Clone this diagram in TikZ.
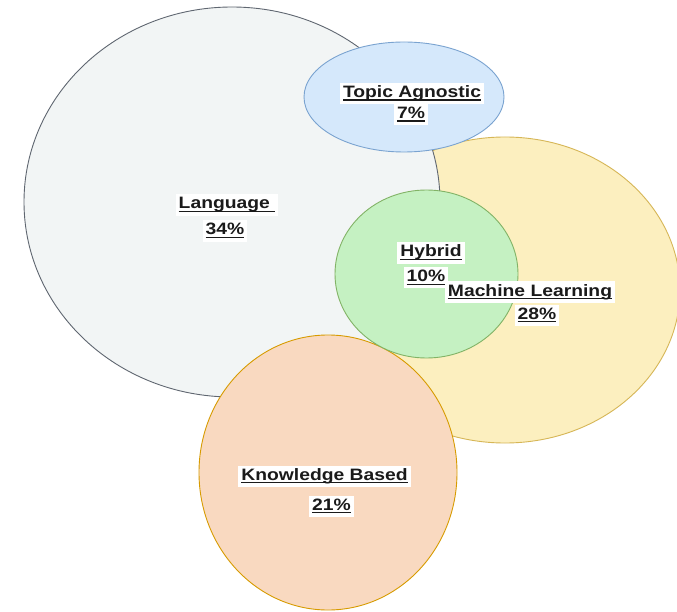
\documentclass[tikz,border=0pt]{standalone}
\usepackage{fontspec}
\setmainfont{Liberation Sans}
\usetikzlibrary{shapes.geometric}
\definecolor{langfill}{HTML}{F2F5F5}
\definecolor{langdraw}{HTML}{5F6670}
\definecolor{topfill}{HTML}{D5E8FB}
\definecolor{topdraw}{HTML}{7AA3D0}
\definecolor{mlfill}{HTML}{FCEFBF}
\definecolor{mldraw}{HTML}{D6B656}
\definecolor{hybfill}{HTML}{C5F1C2}
\definecolor{hybdraw}{HTML}{82B366}
\definecolor{kbfill}{HTML}{F9D9C0}
\definecolor{kbdraw}{HTML}{D79B00}
\definecolor{txt}{HTML}{1A1A1A}
\newsavebox{\lblbox}
\newcommand{\lbltext}[1]{\scalebox{1.17}[1]{\sbox{\lblbox}{#1}\rlap{\rule[-3.4pt]{\wd\lblbox}{1.4pt}}\usebox{\lblbox}}}
\tikzset{
  blob/.style={ellipse, inner sep=0pt, line width=0.9pt},
  lbl/.style={anchor=base, fill=white, text=txt, inner xsep=3pt, inner ysep=2pt,
    text height=12.5pt, text depth=4.8pt,
    font=\fontsize{16.5pt}{19pt}\selectfont\bfseries}
}
\begin{document}
\begin{tikzpicture}[x=1pt,y=-1pt]
\clip (0,0) rectangle (677,612);
\fill[white] (0,0) rectangle (677,612);
% ellipses
\node[blob, draw=mldraw, fill=mlfill, minimum width=350pt, minimum height=306pt] (ml) at (505,290) {};
\node[blob, draw=langdraw, fill=langfill, minimum width=416pt, minimum height=390pt] (lang) at (232,202) {};
\node[blob, draw=topdraw, fill=topfill, minimum width=200pt, minimum height=110pt] (topic) at (404,97) {};
\node[blob, draw=kbdraw, fill=kbfill, minimum width=258pt, minimum height=275pt] (kb) at (328,472.5) {};
\node[blob, draw=hybdraw, fill=hybfill, minimum width=183pt, minimum height=168pt] (hyb) at (426.5,274) {};
% labels
\node[lbl] (langA) at (227,209) {\lbltext{Language\ }};
\node[lbl] (langB) at (225,235) {\lbltext{34\%}};
\node[lbl] (topA) at (412,97.5) {\lbltext{Topic Agnostic}};
\node[lbl] (topB) at (411,118.5) {\lbltext{7\%}};
\node[lbl] (hybA) at (431,257) {\lbltext{Hybrid}};
\node[lbl] (hybB) at (426,281.5) {\lbltext{10\%}};
\node[lbl] (mlA) at (530,296) {\lbltext{Machine Learning}};
\node[lbl] (mlB) at (537,319) {\lbltext{28\%}};
\node[lbl] (kbA) at (324.5,480) {\lbltext{Knowledge Based}};
\node[lbl] (kbB) at (331.5,510) {\lbltext{21\%}};
\end{tikzpicture}
\end{document}
